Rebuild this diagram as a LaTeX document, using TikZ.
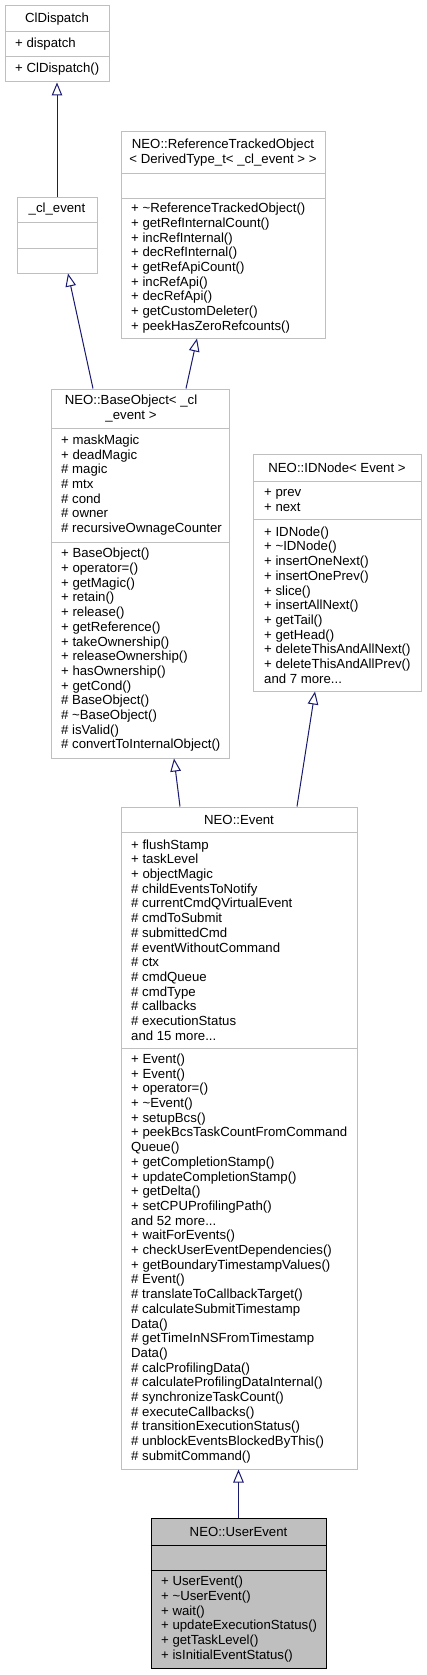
\documentclass[tikz,border=0pt]{standalone}
\usepackage{fontspec}
\setmainfont{Liberation Sans}
\usetikzlibrary{arrows.meta,fit}
\definecolor{greyS}{HTML}{BFBFBF}
\definecolor{midblue}{HTML}{191970}
\begin{document}
\begin{tikzpicture}[x=1pt,y=-1pt,
  txt/.style={font=\fontsize{13.2}{14.7}\selectfont, inner sep=0pt, text=black},
  head/.style={txt, align=center},
  body/.style={txt, align=left, anchor=west},
  classbox/.style={draw=greyS, fill=white, line width=1pt, inner sep=0pt},
  focusbox/.style={draw=black, fill=greyS, line width=1pt, inner sep=0pt},
  divider/.style={draw=greyS, line width=1pt},
  focusdiv/.style={draw=black, line width=1pt},
  inh/.style={draw=midblue, line width=1pt, -{Triangle[open,length=13pt,width=10.5pt]}},
]
\useasboundingbox (0,0) rectangle (426,1675);

% ClDispatch
\node[classbox, fit={(5,6) (109,82)}] (cld) {};
\draw[divider] (cld.west |- 0,32) -- (cld.east |- 0,32);
\draw[divider] (cld.west |- 0,57) -- (cld.east |- 0,57);
\node[head] (cldh) at (57,19) {ClDispatch};
\node[body] (clda) at (15,44.5) {+ dispatch};
\node[body] (cldm) at (15,69.5) {+ ClDispatch()};

% _cl_event
\node[classbox, fit={(17,197) (97,273)}] (cle) {};
\draw[divider] (cle.west |- 0,222) -- (cle.east |- 0,222);
\draw[divider] (cle.west |- 0,248) -- (cle.east |- 0,248);
\node[head] (cleh) at (57,209.5) {\_cl\_event};

% ReferenceTrackedObject
\node[classbox, fit={(121,132) (325,338)}] (rto) {};
\draw[divider] (rto.west |- 0,173) -- (rto.east |- 0,173);
\draw[divider] (rto.west |- 0,198) -- (rto.east |- 0,198);
\node[head] (rtoh) at (223,152.5) {NEO::ReferenceTrackedObject\\< DerivedType\_t< \_cl\_event > >};
\node[body] (rtom) at (131,268) {+ \textasciitilde ReferenceTrackedObject()\\+ getRefInternalCount()\\+ incRefInternal()\\+ decRefInternal()\\+ getRefApiCount()\\+ incRefApi()\\+ decRefApi()\\+ getCustomDeleter()\\+ peekHasZeroRefcounts()};

% BaseObject
\node[classbox, fit={(51,389) (229,758)}] (bo) {};
\draw[divider] (bo.west |- 0,428) -- (bo.east |- 0,428);
\draw[divider] (bo.west |- 0,542) -- (bo.east |- 0,542);
\node[head] (boh) at (131,408.5) {NEO::BaseObject< \_cl\\\_event >};
\node[body] (boa) at (61,485) {+ maskMagic\\+ deadMagic\\\# magic\\\# mtx\\\# cond\\\# owner\\\# recursiveOwnageCounter};
\node[body] (bom) at (61,650) {+ BaseObject()\\+ operator=()\\+ getMagic()\\+ retain()\\+ release()\\+ getReference()\\+ takeOwnership()\\+ releaseOwnership()\\+ hasOwnership()\\+ getCond()\\\# BaseObject()\\\# \textasciitilde BaseObject()\\\# isValid()\\\# convertToInternalObject()};

% IDNode
\node[classbox, fit={(253,454) (421,691)}] (idn) {};
\draw[divider] (idn.west |- 0,481) -- (idn.east |- 0,481);
\draw[divider] (idn.west |- 0,519) -- (idn.east |- 0,519);
\node[head] (idnh) at (337,467.5) {NEO::IDNode< Event >};
\node[body] (idna) at (264,500) {+ prev\\+ next};
\node[body] (idnm) at (264,605) {+ IDNode()\\+ \textasciitilde IDNode()\\+ insertOneNext()\\+ insertOnePrev()\\+ slice()\\+ insertAllNext()\\+ getTail()\\+ getHead()\\+ deleteThisAndAllNext()\\+ deleteThisAndAllPrev()\\and 7 more...};

% Event
\node[classbox, fit={(121,807) (357,1469)}] (ev) {};
\draw[divider] (ev.west |- 0,832) -- (ev.east |- 0,832);
\draw[divider] (ev.west |- 0,1048) -- (ev.east |- 0,1048);
\node[head] (evh) at (239,819.5) {NEO::Event};
\node[body] (eva) at (131,940) {+ flushStamp\\+ taskLevel\\+ objectMagic\\\# childEventsToNotify\\\# currentCmdQVirtualEvent\\\# cmdToSubmit\\\# submittedCmd\\\# eventWithoutCommand\\\# ctx\\\# cmdQueue\\\# cmdType\\\# callbacks\\\# executionStatus\\and 15 more...};
\node[body] (evm) at (131,1258.5) {+ Event()\\+ Event()\\+ operator=()\\+ \textasciitilde Event()\\+ setupBcs()\\+ peekBcsTaskCountFromCommand\\Queue()\\+ getCompletionStamp()\\+ updateCompletionStamp()\\+ getDelta()\\+ setCPUProfilingPath()\\and 52 more...\\+ waitForEvents()\\+ checkUserEventDependencies()\\+ getBoundaryTimestampValues()\\\# Event()\\\# translateToCallbackTarget()\\\# calculateSubmitTimestamp\\Data()\\\# getTimeInNSFromTimestamp\\Data()\\\# calcProfilingData()\\\# calculateProfilingDataInternal()\\\# synchronizeTaskCount()\\\# executeCallbacks()\\\# transitionExecutionStatus()\\\# unblockEventsBlockedByThis()\\\# submitCommand()};

% UserEvent
\node[focusbox, fit={(151,1518) (326,1668)}] (ue) {};
\draw[focusdiv] (ue.west |- 0,1545) -- (ue.east |- 0,1545);
\draw[focusdiv] (ue.west |- 0,1570) -- (ue.east |- 0,1570);
\node[head] (ueh) at (238.5,1531.5) {NEO::UserEvent};
\node[body] (uem) at (161,1619) {+ UserEvent()\\+ \textasciitilde UserEvent()\\+ wait()\\+ updateExecutionStatus()\\+ getTaskLevel()\\+ isInitialEventStatus()};

% inheritance connectors
\draw[inh] (cle.north) -- (cld.south);
\draw[inh] ([xshift=-47pt]bo.north) -- ([xshift=11pt]cle.south);
\draw[inh] ([xshift=46pt]bo.north) -- ([xshift=-26pt]rto.south);
\draw[inh] ([xshift=-59pt]ev.north) -- ([xshift=34pt]bo.south);
\draw[inh] ([xshift=58pt]ev.north) -- ([xshift=-22pt]idn.south);
\draw[inh] (ue.north) -- (ue.north |- ev.south);
\end{tikzpicture}
\end{document}
